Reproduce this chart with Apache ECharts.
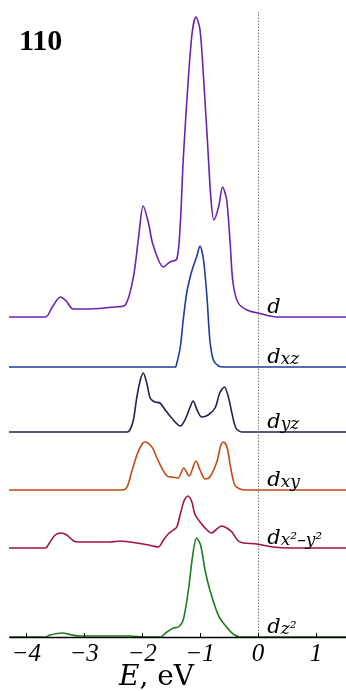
<!DOCTYPE html>
<html>
<head>
<meta charset="utf-8">
<script src="https://cdn.jsdelivr.net/npm/echarts@6/dist/echarts.min.js"></script>
<style>
html, body { margin: 0; padding: 0; background: #fff; }
#chart { width: 346px; height: 691px; }
</style>
</head>
<body>
<div id="chart"></div>
<script>
// x axis ticks (eV)
var tickValues = [-4, -3, -2, -1, 0, 1];

// d (total)
var dE = [-4.3, -3.67, -3.55, -3.41, -3.31, -3.19, -2.90, -2.47, -2.29, -2.15, -2.06, -1.98, -1.89, -1.81, -1.63, -1.52, -1.40, -1.34, -1.29, -1.20, -1.13, -1.07, -1.00, -0.94, -0.87, -0.81, -0.76, -0.68, -0.61, -0.54, -0.48, -0.43, -0.34, -0.19, 0.00, 0.33, 1.52];
var dDos = [0, 0, 0.10, 0.20, 0.16, 0.08, 0.08, 0.10, 0.12, 0.40, 0.80, 1.11, 0.94, 0.72, 0.50, 0.55, 0.58, 0.94, 1.57, 2.40, 2.87, 3.00, 2.87, 2.40, 1.74, 1.17, 0.97, 1.10, 1.30, 1.17, 0.74, 0.34, 0.14, 0.07, 0.04, 0, 0];

// d_xz
var dxzE = [-4.3, -1.43, -1.40, -1.34, -1.29, -1.23, -1.17, -1.12, -1.06, -1.00, -0.94, -0.88, -0.83, -0.77, -0.68, -0.60, 1.52];
var dxzDos = [0, 0, 0.04, 0.20, 0.47, 0.74, 0.90, 1.00, 1.10, 1.21, 1.07, 0.70, 0.27, 0.07, 0.01, 0, 0];

// d_yz
var dyzE = [-4.3, -2.26, -2.21, -2.15, -2.09, -2.03, -1.98, -1.92, -1.86, -1.78, -1.69, -1.60, -1.49, -1.34, -1.26, -1.17, -1.12, -1.05, -0.97, -0.86, -0.74, -0.66, -0.58, -0.51, -0.45, -0.38, -0.28, 1.52];
var dyzDos = [0, 0, 0.02, 0.12, 0.35, 0.52, 0.59, 0.49, 0.34, 0.30, 0.29, 0.22, 0.14, 0.06, 0.12, 0.25, 0.31, 0.22, 0.15, 0.17, 0.24, 0.39, 0.45, 0.35, 0.19, 0.04, 0, 0];

// d_xy
var dxyE = [-4.3, -2.34, -2.26, -2.18, -2.09, -2.00, -1.95, -1.83, -1.75, -1.66, -1.57, -1.49, -1.38, -1.28, -1.19, -1.07, -1.00, -0.91, -0.83, -0.71, -0.64, -0.59, -0.53, -0.47, -0.40, -0.31, -0.20, 1.52];
var dxyDos = [0, 0, 0.03, 0.18, 0.35, 0.46, 0.48, 0.43, 0.33, 0.22, 0.14, 0.13, 0.12, 0.22, 0.14, 0.29, 0.20, 0.11, 0.13, 0.28, 0.45, 0.48, 0.42, 0.22, 0.05, 0.01, 0, 0];

// d_x2-y2
var dx2y2E = [-4.3, -3.67, -3.59, -3.50, -3.40, -3.30, -3.18, -3.10, -2.55, -2.38, -2.21, -1.98, -1.81, -1.72, -1.63, -1.55, -1.46, -1.40, -1.34, -1.27, -1.21, -1.14, -1.09, -1.00, -0.88, -0.80, -0.71, -0.63, -0.54, -0.45, -0.34, -0.25, -0.02, 0.26, 0.55, 1.52];
var dx2y2Dos = [0, 0, 0.06, 0.13, 0.15, 0.13, 0.07, 0.06, 0.06, 0.07, 0.06, 0.04, 0.02, 0.01, 0.08, 0.14, 0.18, 0.21, 0.34, 0.48, 0.52, 0.46, 0.34, 0.26, 0.18, 0.15, 0.19, 0.22, 0.20, 0.16, 0.07, 0.05, 0.04, 0.01, 0, 0];

// d_z2
var dz2E = [-4.3, -3.67, -3.59, -3.38, -3.21, -3.07, -2.21, -1.98, -1.69, -1.57, -1.46, -1.37, -1.29, -1.20, -1.13, -1.06, -0.99, -0.91, -0.83, -0.72, -0.66, -0.57, -0.45, -0.31, 1.52];
var dz2Dos = [0, 0, 0.02, 0.04, 0.02, 0.01, 0.01, 0, 0, 0.05, 0.09, 0.10, 0.17, 0.47, 0.80, 0.99, 0.92, 0.66, 0.47, 0.27, 0.19, 0.12, 0.04, 0, 0];

var serif = 'DejaVu Serif';
var curves = [
    {name: 'd', e: dE, v: dDos, shift: 3.20, color: '#6b22b0', label: '{m|d}'},
    {name: 'dxz', e: dxzE, v: dxzDos, shift: 2.70, color: '#1b3c9c', label: '{m|d}{s|xz}'},
    {name: 'dyz', e: dyzE, v: dyzDos, shift: 2.05, color: '#22224e', label: '{m|d}{s|yz}'},
    {name: 'dxy', e: dxyE, v: dxyDos, shift: 1.47, color: '#c54a12', label: '{m|d}{s|xy}'},
    {name: 'dx2-y2', e: dx2y2E, v: dx2y2Dos, shift: 0.89, color: '#a3133e', label: '{m|d}{s|x\u00b2\u2013y\u00b2}'},
    {name: 'dz2', e: dz2E, v: dz2Dos, shift: 0, color: '#1d7d1d', label: '{m|d}{s|z\u00b2}'}
];

var labelRich = {
    m: {fontFamily: serif, fontStyle: 'italic', fontSize: 21, lineHeight: 21, color: '#000'},
    s: {fontFamily: serif, fontStyle: 'italic', fontSize: 17, lineHeight: 14, color: '#000', verticalAlign: 'bottom'}
};

var series = curves.map(function (c, idx) {
    var data = [];
    for (var i = 0; i < c.e.length; i++) {
        data.push([c.e[i], c.v[i] + c.shift]);
    }
    var s = {
        name: c.name,
        type: 'line',
        data: data,
        smooth: 0.3,
        showSymbol: false,
        lineStyle: {color: c.color, width: 1.6},
        itemStyle: {color: c.color},
        markPoint: {
            silent: true,
            symbol: 'circle',
            symbolSize: 1,
            itemStyle: {color: 'rgba(0,0,0,0)'},
            label: {
                show: true,
                position: 'insideBottomLeft',
                distance: 0,
                offset: [0, 1],
                formatter: c.label,
                rich: labelRich
            },
            data: [{coord: [0.17, c.shift]}]
        }
    };
    if (idx === 0) {
        // Fermi level
        s.markLine = {
            silent: true,
            symbol: 'none',
            label: {show: false},
            lineStyle: {color: '#777', type: [1.5, 1.5], width: 1},
            data: [{xAxis: 0}]
        };
    }
    return s;
});

var chart = echarts.init(document.getElementById('chart'));
chart.setOption({
    animation: false,
    title: {
        text: '110',
        left: 19,
        top: 27,
        padding: 0,
        textStyle: {fontFamily: 'Liberation Serif', fontWeight: 'bold', fontSize: 30, lineHeight: 30, color: '#000'}
    },
    grid: {left: 10, right: 0, top: 12, bottom: 54, containLabel: false, outerBoundsMode: 'none'},
    xAxis: {
        type: 'value',
        min: -4.28,
        max: 1.52,
        z: 10,
        name: '{i|E}{r|, eV}',
        nameLocation: 'middle',
        nameGap: 27,
        nameMoveOverlap: false,
        nameTextStyle: {
            padding: [0, 43, 0, 0],
            rich: {
                i: {fontFamily: serif, fontStyle: 'italic', fontSize: 28, lineHeight: 28, color: '#000'},
                r: {fontFamily: serif, fontSize: 28, lineHeight: 28, color: '#000'}
            }
        },
        axisLine: {lineStyle: {color: '#000', width: 1.3}},
        axisTick: {inside: true, length: 4, customValues: tickValues, lineStyle: {color: '#000'}},
        axisLabel: {
            customValues: tickValues,
            margin: 5,
            fontFamily: 'Liberation Serif',
            fontStyle: 'italic',
            fontSize: 25,
            lineHeight: 24,
            color: '#000',
            formatter: function (v) { return '{t|' + String(v).replace('-', '\u2212') + '}'; },
            rich: {
                t: {fontFamily: 'Liberation Serif', fontStyle: 'italic', fontSize: 25, lineHeight: 24, color: '#000'}
            }
        },
        splitLine: {show: false}
    },
    yAxis: {type: 'value', min: 0, max: 6.25, show: false},
    series: series
});
</script>
</body>
</html>
